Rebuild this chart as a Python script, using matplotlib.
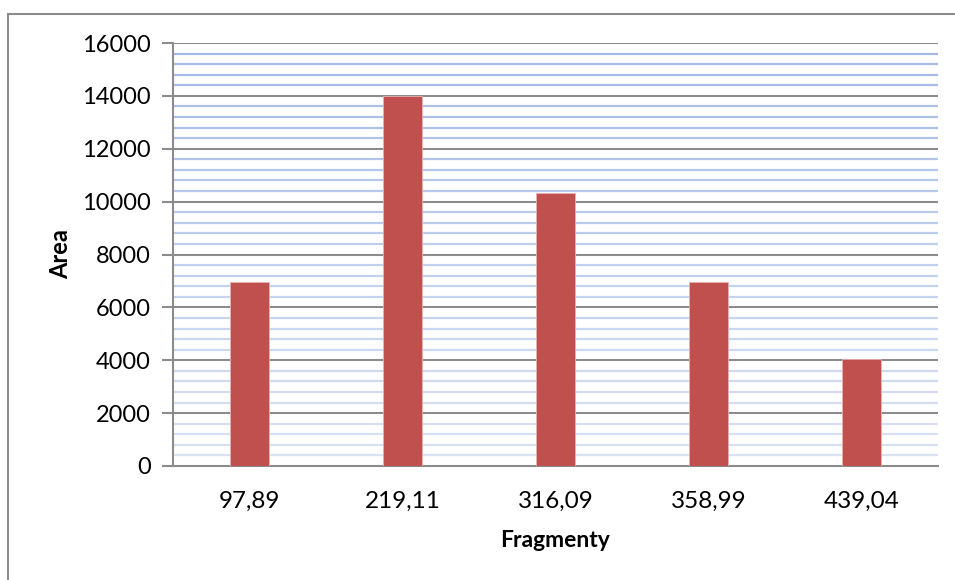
import matplotlib.pyplot as plt
import matplotlib.patches as mpatches
import numpy as np

plt.rcParams['font.family'] = ['Lato', 'DejaVu Sans']

# Fragment masses and their peak areas
fragments = ['97,89', '219,11', '316,09', '358,99', '439,04']
areas = [6950, 14000, 10320, 6950, 4060]

W, H = 955, 580
fig = plt.figure(figsize=(W / 100, H / 100), dpi=100)

# plot area in pixel coordinates
left, right, top, bottom = 173, 938, 43, 466
ax = fig.add_axes([left / W, 1 - bottom / H, (right - left) / W, (bottom - top) / H])

# chart frame, runs off the right and bottom edges
fig.patches.append(mpatches.Rectangle((7.5 / W, -0.05), 1.1, 1.05 - 13.5 / H,
                                      transform=fig.transFigure, fill=False,
                                      edgecolor='#8c8c8c', linewidth=1.5))

x = np.arange(len(fragments))
ax.bar(x, areas, width=0.25, color='#c0504d', edgecolor='#e6b1af', linewidth=0.6, zorder=3)

ax.set_xlim(-0.5, len(fragments) - 0.5)
ax.set_ylim(0, 16000)
ax.set_yticks(np.arange(0, 16001, 2000))
ax.set_yticks(np.arange(0, 16001, 400), minor=True)

# minor gridlines fade slightly toward the bottom
for v in np.arange(400, 16000, 400):
    if v % 2000 == 0:
        continue
    t = v / 16000
    c = (0.86 - 0.22 * t, 0.89 - 0.16 * t, 0.96 - 0.06 * t)
    ax.axhline(v, color=c, linewidth=1.6, zorder=1)
for v in np.arange(2000, 16001, 2000):
    ax.axhline(v, color='#8c8c8c', linewidth=1.5, zorder=2)

ax.set_xticks(x)
ax.set_xticklabels(fragments)
ax.tick_params(axis='x', length=0, labelsize=17.5, pad=18, labelcolor='black')
ax.tick_params(axis='y', which='major', length=8, width=1.5, color='#8c8c8c',
               labelsize=17, pad=8, labelcolor='black')
ax.tick_params(axis='y', which='minor', length=0)

for s in ['top', 'right']:
    ax.spines[s].set_visible(False)
for s in ['left', 'bottom']:
    ax.spines[s].set_color('#8c8c8c')
    ax.spines[s].set_linewidth(1.5)

ax.set_xlabel('Fragmenty', fontsize=16.5, fontweight='bold', labelpad=13)
ax.set_ylabel('Area', fontsize=17, fontweight='bold', labelpad=7)

fig.savefig('out.png', dpi=100)
